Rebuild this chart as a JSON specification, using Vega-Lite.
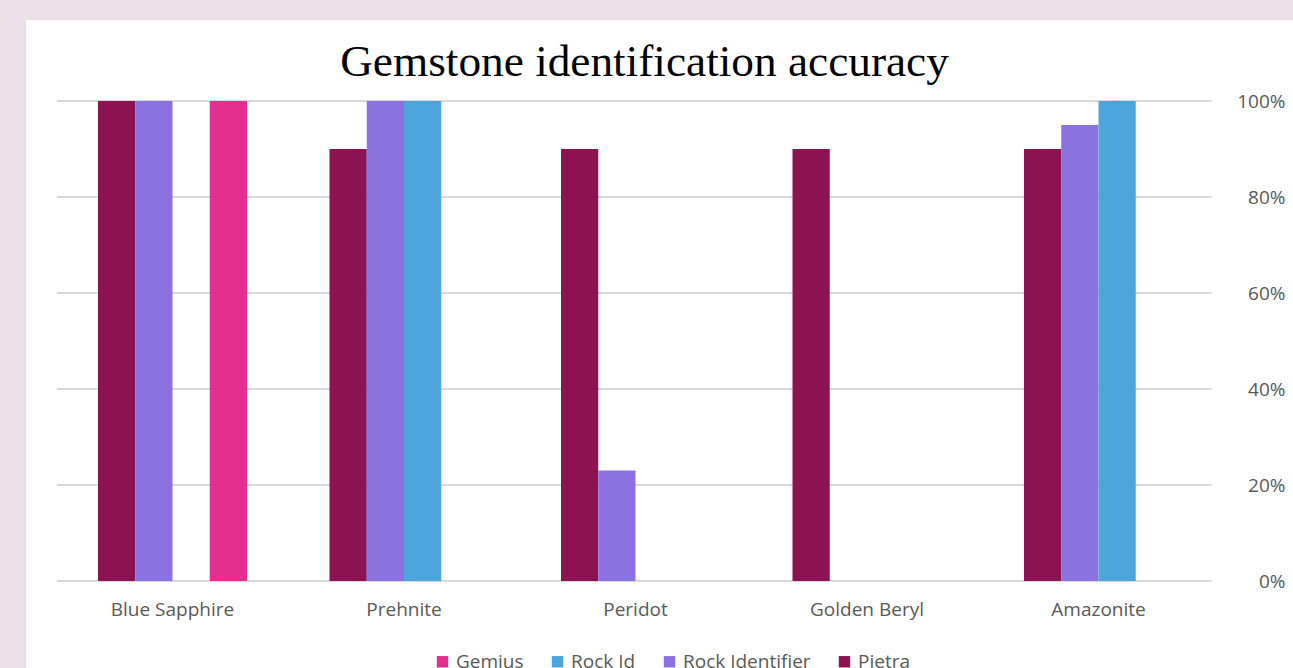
{
  "$schema": "https://vega.github.io/schema/vega-lite/v6.json",
  "width": 1267,
  "height": 648,
  "autosize": {"type": "none"},
  "padding": {"left": 26, "top": 20, "right": 0, "bottom": 0},
  "background": "#ebdfe8",
  "config": {
    "view": {"fill": "#ffffff", "stroke": null},
    "font": "Open Sans"
  },
  "title": {
    "text": "Gemstone identification accuracy",
    "font": "Liberation Serif",
    "fontSize": 45.3,
    "fontWeight": "normal",
    "color": "#000000",
    "anchor": "middle",
    "frame": "group",
    "baseline": "alphabetic",
    "offset": 0,
    "dx": -15,
    "dy": 101
  },
  "datasets": {
    "bars": [
      {"gem": "Blue Sapphire", "app": "Pietra", "acc": 1.0},
      {"gem": "Blue Sapphire", "app": "Rock Identifier", "acc": 1.0},
      {"gem": "Blue Sapphire", "app": "Rock Id", "acc": 0},
      {"gem": "Blue Sapphire", "app": "Gemius", "acc": 1.0},
      {"gem": "Prehnite", "app": "Pietra", "acc": 0.9},
      {"gem": "Prehnite", "app": "Rock Identifier", "acc": 1.0},
      {"gem": "Prehnite", "app": "Rock Id", "acc": 1.0},
      {"gem": "Prehnite", "app": "Gemius", "acc": 0},
      {"gem": "Peridot", "app": "Pietra", "acc": 0.9},
      {"gem": "Peridot", "app": "Rock Identifier", "acc": 0.23},
      {"gem": "Peridot", "app": "Rock Id", "acc": 0},
      {"gem": "Peridot", "app": "Gemius", "acc": 0},
      {"gem": "Golden Beryl", "app": "Pietra", "acc": 0.9},
      {"gem": "Golden Beryl", "app": "Rock Identifier", "acc": 0},
      {"gem": "Golden Beryl", "app": "Rock Id", "acc": 0},
      {"gem": "Golden Beryl", "app": "Gemius", "acc": 0},
      {"gem": "Amazonite", "app": "Pietra", "acc": 0.9},
      {"gem": "Amazonite", "app": "Rock Identifier", "acc": 0.95},
      {"gem": "Amazonite", "app": "Rock Id", "acc": 1.0},
      {"gem": "Amazonite", "app": "Gemius", "acc": 0}
    ],
    "grid": [
      {"v": 0}, {"v": 0.2}, {"v": 0.4}, {"v": 0.6}, {"v": 0.8}, {"v": 1.0}
    ]
  },
  "layer": [
    {
      "data": {"name": "grid"},
      "mark": {"type": "rule", "color": "#d9d9d9", "strokeWidth": 2},
      "encoding": {
        "x": {"datum": "Blue Sapphire", "bandPosition": -0.275},
        "x2": {"datum": "Amazonite", "bandPosition": 1.262},
        "y": {"field": "v", "type": "quantitative"}
      }
    },
    {
      "data": {"name": "bars"},
      "mark": {"type": "bar"},
      "encoding": {
        "x": {
          "field": "gem",
          "type": "nominal",
          "sort": ["Blue Sapphire", "Prehnite", "Peridot", "Golden Beryl", "Amazonite"],
          "scale": {"paddingInner": 0.3564, "paddingOuter": 0.4147, "align": 0.375, "round": false},
          "axis": {
            "title": null,
            "orient": "bottom",
            "labelAngle": 0,
            "labelAlign": "center",
            "labelFont": "Open Sans",
            "labelFontSize": 19,
            "labelColor": "#595959",
            "labelPadding": -68,
            "labelBaseline": "top",
            "ticks": false,
            "tickSize": 0,
            "domain": false,
            "grid": false
          }
        },
        "xOffset": {
          "field": "app",
          "type": "nominal",
          "scale": {"domain": ["Pietra", "Rock Identifier", "Rock Id", "Gemius"], "paddingInner": 0, "paddingOuter": 0}
        },
        "y": {
          "field": "acc",
          "type": "quantitative",
          "stack": null,
          "scale": {"domain": [-0.18125, 1.16875], "nice": false, "zero": false},
          "axis": {
            "title": null,
            "orient": "right",
            "values": [0, 0.2, 0.4, 0.6, 0.8, 1.0],
            "format": ".0%",
            "labelFont": "Open Sans",
            "labelFontSize": 19,
            "labelColor": "#595959",
            "labelAlign": "right",
            "labelPadding": -8,
            "ticks": false,
            "tickSize": 0,
            "domain": false,
            "grid": false
          }
        },
        "y2": {"datum": 0},
        "color": {
          "field": "app",
          "type": "nominal",
          "scale": {
            "domain": ["Gemius", "Rock Id", "Rock Identifier", "Pietra"],
            "range": ["#e52f8f", "#4ca6dc", "#8a73e0", "#8c1352"]
          },
          "legend": {
            "title": null,
            "orient": "none",
            "direction": "horizontal",
            "columns": 4,
            "legendX": 407,
            "legendY": 632,
            "padding": 0,
            "symbolType": "square",
            "symbolSize": 130,
            "symbolStrokeWidth": 0,
            "symbolOpacity": 1,
            "labelFont": "Open Sans",
            "labelFontSize": 19,
            "labelColor": "#595959",
            "labelOffset": 4,
            "columnPadding": 24
          }
        }
      }
    }
  ]
}
